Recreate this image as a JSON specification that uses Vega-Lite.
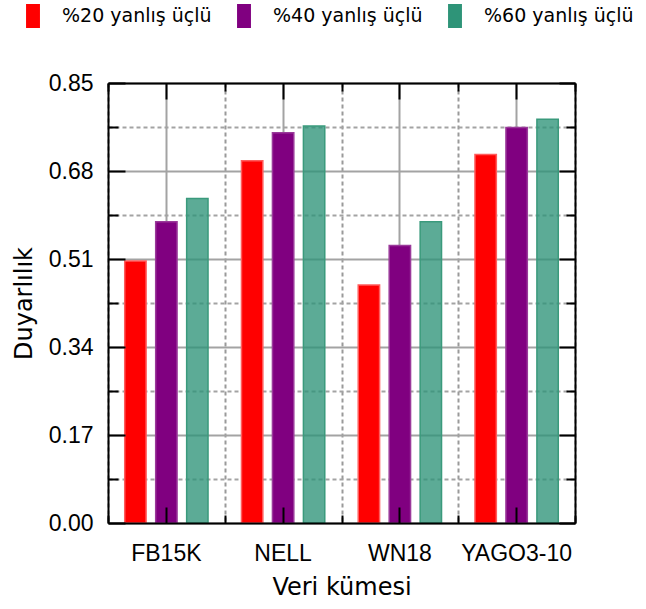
{
  "$schema": "https://vega.github.io/schema/vega-lite/v6.json",
  "width": 467,
  "height": 440,
  "autosize": "none",
  "padding": {"left": 108, "top": 83, "right": 71, "bottom": 86},
  "background": "white",
  "config": {
    "view": {"stroke": null},
    "axis": {
      "labelFont": "Liberation Sans",
      "labelFontSize": 23,
      "labelColor": "black",
      "titleFont": "DejaVu Sans",
      "titleFontSize": 24,
      "titleFontWeight": "normal",
      "titleColor": "black"
    }
  },
  "data": {
    "values": [
      {"dataset": "FB15K", "series": "%20 yanlış üçlü", "value": 0.506},
      {"dataset": "FB15K", "series": "%40 yanlış üçlü", "value": 0.582},
      {"dataset": "FB15K", "series": "%60 yanlış üçlü", "value": 0.627},
      {"dataset": "NELL", "series": "%20 yanlış üçlü", "value": 0.700},
      {"dataset": "NELL", "series": "%40 yanlış üçlü", "value": 0.754},
      {"dataset": "NELL", "series": "%60 yanlış üçlü", "value": 0.767},
      {"dataset": "WN18", "series": "%20 yanlış üçlü", "value": 0.460},
      {"dataset": "WN18", "series": "%40 yanlış üçlü", "value": 0.536},
      {"dataset": "WN18", "series": "%60 yanlış üçlü", "value": 0.582},
      {"dataset": "YAGO3-10", "series": "%20 yanlış üçlü", "value": 0.712},
      {"dataset": "YAGO3-10", "series": "%40 yanlış üçlü", "value": 0.764},
      {"dataset": "YAGO3-10", "series": "%60 yanlış üçlü", "value": 0.780}
    ]
  },
  "layer": [
    {
      "mark": {"type": "bar", "strokeWidth": 1.5},
      "encoding": {
        "x": {
          "field": "dataset", "type": "nominal", "sort": null,
          "scale": {"paddingInner": 0, "paddingOuter": 0},
          "axis": {
            "orient": "bottom", "title": "Veri kümesi", "labelAngle": 0,
            "labelPadding": 19, "titlePadding": 10, "ticks": false, "domain": false,
            "grid": true, "gridColor": "#a3a3a3", "gridWidth": 2, "zindex": 0
          }
        },
        "xOffset": {
          "field": "series", "type": "nominal", "sort": null,
          "scale": {"paddingInner": 0.31, "paddingOuter": 0.54}
        },
        "y": {
          "field": "value", "type": "quantitative",
          "scale": {"domain": [0, 0.85], "nice": false},
          "axis": {
            "orient": "left", "title": "Duyarlılık",
            "values": [0, 0.085, 0.17, 0.255, 0.34, 0.425, 0.51, 0.595, 0.68, 0.765, 0.85],
            "format": ".2f",
            "labelExpr": "abs(round(datum.value*100/17)*17 - datum.value*100) < 0.5 ? datum.label : ''",
            "labelOverlap": false, "labelPadding": 15, "titlePadding": 12,
            "ticks": false, "domain": false, "grid": true,
            "gridColor": "#a3a3a3", "gridWidth": 2,
            "gridDash": {"condition": {"test": "abs(round(datum.value*100/17)*17 - datum.value*100) < 0.5", "value": []}, "value": [4, 3]},
            "zindex": 0
          }
        },
        "fill": {
          "field": "series", "type": "nominal", "sort": null,
          "scale": {"domain": ["%20 yanlış üçlü", "%40 yanlış üçlü", "%60 yanlış üçlü"], "range": ["#ff0000", "#800080", "#2e9478"]},
          "legend": {
            "orient": "none", "legendX": -87, "legendY": -79, "direction": "horizontal",
            "title": null, "symbolType": "M-0.58,-1H0.58V1H-0.58Z", "symbolSize": 576,
            "symbolStrokeWidth": 0, "symbolOpacity": 1,
            "labelFont": "DejaVu Sans", "labelFontSize": 19, "labelColor": "black",
            "labelOffset": 17, "columnPadding": 20, "padding": 0, "labelLimit": 300
          }
        },
        "stroke": {
          "field": "series", "type": "nominal", "sort": null,
          "scale": {"domain": ["%20 yanlış üçlü", "%40 yanlış üçlü", "%60 yanlış üçlü"], "range": ["#ff5c5c", "#9a3a9a", "#3a9a7c"]},
          "legend": null
        },
        "fillOpacity": {"condition": {"test": "datum.series === '%60 yanlış üçlü'", "value": 0.78}, "value": 1}
      }
    },
    {
      "mark": {"type": "bar", "opacity": 0},
      "encoding": {
        "x": {
          "field": "dataset", "type": "nominal", "sort": null,
          "scale": {"paddingInner": 0, "paddingOuter": 0},
          "axis": {
            "orient": "bottom", "title": null, "labels": false, "ticks": false, "domain": false,
            "grid": true, "tickBand": "extent", "gridColor": "#9a9a9a", "gridWidth": 2, "gridDash": [4, 3], "zindex": 0
          }
        },
        "y": {
          "field": "value", "type": "quantitative",
          "scale": {"domain": [0, 0.85], "nice": false},
          "axis": {
            "orient": "right", "title": null, "labels": false,
            "values": [0, 0.085, 0.17, 0.255, 0.34, 0.425, 0.51, 0.595, 0.68, 0.765, 0.85],
            "ticks": true, "tickColor": "black", "tickWidth": 2,
            "tickSize": {"condition": {"test": "abs(round(datum.value*100/17)*17 - datum.value*100) < 0.5", "value": -16}, "value": -9},
            "domain": true, "domainColor": "black", "domainWidth": 2, "grid": false, "zindex": 1
          }
        }
      }
    },
    {
      "mark": {"type": "bar", "opacity": 0},
      "encoding": {
        "x": {
          "field": "dataset", "type": "nominal", "sort": null,
          "scale": {"paddingInner": 0, "paddingOuter": 0},
          "axis": {
            "orient": "bottom", "title": null, "labels": false,
            "ticks": true, "tickSize": -16, "tickColor": "black", "tickWidth": 2,
            "domain": true, "domainColor": "black", "domainWidth": 2, "grid": false, "zindex": 1
          }
        },
        "y": {
          "field": "value", "type": "quantitative",
          "scale": {"domain": [0, 0.85], "nice": false},
          "axis": {
            "orient": "left", "title": null, "labels": false,
            "values": [0, 0.085, 0.17, 0.255, 0.34, 0.425, 0.51, 0.595, 0.68, 0.765, 0.85],
            "ticks": true, "tickColor": "black", "tickWidth": 2,
            "tickSize": {"condition": {"test": "abs(round(datum.value*100/17)*17 - datum.value*100) < 0.5", "value": -17}, "value": -10},
            "domain": true, "domainColor": "black", "domainWidth": 2, "grid": false, "zindex": 1
          }
        }
      }
    },
    {
      "mark": {"type": "bar", "opacity": 0},
      "encoding": {
        "x": {
          "field": "dataset", "type": "nominal", "sort": null,
          "scale": {"paddingInner": 0, "paddingOuter": 0},
          "axis": {
            "orient": "top", "title": null, "labels": false,
            "ticks": true, "tickSize": -16, "tickColor": "black", "tickWidth": 2,
            "domain": true, "domainColor": "black", "domainWidth": 2, "grid": false, "zindex": 1
          }
        },
        "y": {
          "field": "value", "type": "quantitative",
          "scale": {"domain": [0, 0.85], "nice": false},
          "axis": null
        }
      }
    },
    {
      "mark": {"type": "bar", "opacity": 0},
      "encoding": {
        "x": {
          "field": "dataset", "type": "nominal", "sort": null,
          "scale": {"paddingInner": 0, "paddingOuter": 0},
          "axis": {
            "orient": "bottom", "title": null, "labels": false, "tickBand": "extent",
            "ticks": true, "tickSize": -8, "tickColor": "black", "tickWidth": 2,
            "domain": false, "grid": false, "zindex": 1
          }
        },
        "y": {
          "field": "value", "type": "quantitative",
          "scale": {"domain": [0, 0.85], "nice": false},
          "axis": null
        }
      }
    },
    {
      "mark": {"type": "bar", "opacity": 0},
      "encoding": {
        "x": {
          "field": "dataset", "type": "nominal", "sort": null,
          "scale": {"paddingInner": 0, "paddingOuter": 0},
          "axis": {
            "orient": "top", "title": null, "labels": false, "tickBand": "extent",
            "ticks": true, "tickSize": -8, "tickColor": "black", "tickWidth": 2,
            "domain": false, "grid": false, "zindex": 1
          }
        },
        "y": {
          "field": "value", "type": "quantitative",
          "scale": {"domain": [0, 0.85], "nice": false},
          "axis": null
        }
      }
    }
  ],
  "resolve": {"axis": {"x": "independent", "y": "independent"}}
}
